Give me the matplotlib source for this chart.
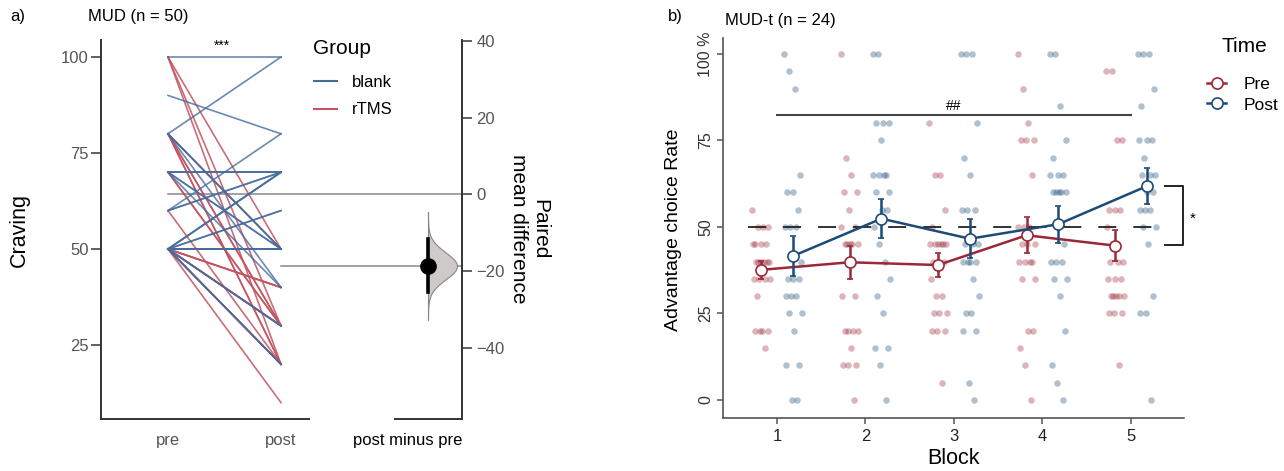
import numpy as np
import matplotlib
matplotlib.use('Agg')
import matplotlib.pyplot as plt
from matplotlib.lines import Line2D

plt.rcParams['font.family'] = ['Liberation Sans', 'DejaVu Sans']

W, H = 1284, 471

# ---- panel a: craving pre/post (paired lines)
blank_pre = [100, 90, 80, 80, 80, 80, 70, 70, 70, 70, 70, 70, 60, 60, 60,
             50, 50, 50, 50, 50, 50, 50, 50, 50, 50, 50, 50, 50, 50]
blank_post = [100, 80, 100, 50, 50, 40, 70, 70, 70, 50, 50, 40, 70, 70, 80,
              70, 70, 70, 60, 60, 50, 50, 50, 50, 50, 30, 30, 20, 20]
rtms_pre = [100, 100, 100, 80, 80, 80, 80, 80, 60, 70, 70,
            50, 50, 50, 50, 50, 50, 50, 50, 50, 50]
rtms_post = [50, 30, 20, 50, 30, 30, 20, 20, 20, 30, 30,
             40, 40, 40, 10, 30, 30, 30, 20, 20, 20]

# ---- panel b: advantage choice rate per block
blocks = [1, 2, 3, 4, 5]
pre_mean = [37.6, 39.8, 39.0, 47.6, 44.6]
pre_se = [2.5, 4.7, 3.4, 5.2, 4.4]
post_mean = [41.6, 52.4, 46.6, 50.8, 61.8]
post_se = [5.7, 5.6, 5.6, 5.4, 5.2]

pre_points = [
    [55, 50, 50, 50, 45, 45, 45, 45, 40, 40, 40, 40, 40, 40, 35, 35, 35, 35, 30, 20, 20, 20, 20, 15],
    [100, 70, 65, 60, 60, 55, 50, 50, 45, 45, 45, 45, 45, 30, 30, 20, 20, 20, 20, 15, 10, 10, 10, 0],
    [80, 65, 65, 55, 50, 45, 45, 45, 45, 45, 45, 40, 40, 40, 35, 30, 30, 25, 25, 25, 20, 20, 20, 5],
    [100, 90, 80, 75, 75, 75, 65, 50, 50, 50, 45, 45, 45, 40, 40, 40, 40, 35, 35, 20, 20, 15, 10, 0],
    [95, 95, 75, 75, 55, 55, 55, 50, 45, 40, 40, 40, 35, 35, 35, 30, 30, 30, 30, 30, 25, 25, 25, 10],
]
post_points = [
    [100, 95, 90, 65, 60, 60, 55, 50, 50, 50, 40, 35, 35, 35, 30, 30, 30, 25, 25, 20, 10, 10, 0, 0],
    [100, 100, 80, 80, 80, 75, 65, 65, 65, 65, 60, 60, 55, 55, 50, 45, 40, 35, 30, 25, 15, 15, 10, 0],
    [100, 100, 100, 80, 70, 65, 55, 55, 55, 45, 45, 45, 40, 40, 40, 40, 35, 30, 25, 25, 20, 20, 5, 0],
    [100, 100, 85, 75, 70, 65, 65, 65, 60, 60, 60, 60, 60, 45, 40, 40, 40, 35, 35, 30, 20, 10, 5, 0],
    [100, 100, 100, 90, 85, 75, 75, 75, 70, 65, 65, 65, 60, 60, 55, 55, 55, 50, 50, 45, 30, 25, 25, 0],
]

c_blank = '#466C9E'
c_rtms = '#C2535F'
c_pre = '#9B2837'
c_post = '#1C4B78'


def fig_rect(left, top, right, bottom):
    return [left / W, 1 - bottom / H, (right - left) / W, (bottom - top) / H]


fig = plt.figure(figsize=(W / 100, H / 100), dpi=100)

# ================= panel a =================
ax1 = fig.add_axes(fig_rect(101, 40, 462, 419))
ax1.set_xlim(-0.593, 2.602)
ax1.set_ylim(5.73, 104.43)
for a, b in zip(rtms_pre, rtms_post):
    ax1.plot([0, 1], [a, b], color=c_rtms, lw=1.2, alpha=0.85, zorder=2)
for a, b in zip(blank_pre, blank_post):
    ax1.plot([0, 1], [a, b], color=c_blank, lw=1.2, alpha=0.8, zorder=2)

all_pre = np.array(blank_pre + rtms_pre, dtype=float)
all_post = np.array(blank_post + rtms_post, dtype=float)
m_pre = all_pre.mean()
m_post = all_post.mean()
ax1.plot([0, 2.602], [m_pre, m_pre], color='#888888', lw=1.1, zorder=1)
ax1.plot([1, 2.602], [m_post, m_post], color='#888888', lw=1.1, zorder=1)

ax1.text(0.48, 102.8, '***', ha='center', va='center', fontsize=10)

for s in ['top', 'right']:
    ax1.spines[s].set_visible(False)
for s in ['left', 'bottom']:
    ax1.spines[s].set_color('#333333')
    ax1.spines[s].set_linewidth(1.4)
ax1.spines['bottom'].set_bounds(-0.593, 1.248)
ax1.set_xticks([0, 1])
ax1.set_xticklabels(['pre', 'post'])
ax1.set_yticks([25, 50, 75, 100])
ax1.tick_params(axis='x', length=0, pad=10, labelsize=12, labelcolor='#555555')
ax1.tick_params(axis='y', length=7, width=1.3, color='#555555', pad=2,
                labelsize=12, labelcolor='#555555')

fig.text(313 / W, 1 - 48 / H, 'Group', ha='left', va='center', fontsize=15)
ax1.legend([Line2D([], [], color=c_blank, lw=1.5),
            Line2D([], [], color=c_rtms, lw=1.5)],
           ['blank', 'rTMS'], loc='upper left',
           bbox_to_anchor=(314 / W, 1 - 75 / H), bbox_transform=fig.transFigure,
           frameon=False, fontsize=12, borderpad=0, borderaxespad=0,
           handlelength=1.4, handletextpad=0.85, labelspacing=0.75)

# difference axis
ax2 = fig.add_axes(fig_rect(395, 40, 462, 419))
ax2.patch.set_visible(False)
ax2.set_xlim(0, 1)
ax2.set_ylim(5.73 - m_pre, 104.43 - m_pre)
diffs = all_post - all_pre
d_mean = diffs.mean()
d_se = diffs.std(ddof=1) / np.sqrt(len(diffs))
yy = np.linspace(d_mean - 4 * d_se, d_mean + 4 * d_se, 200)
dens = np.exp(-0.5 * ((yy - d_mean) / d_se) ** 2)
x0 = 0.4925
ax2.fill_betweenx(yy, x0, x0 + 0.433 * dens, facecolor='#cfcaca', edgecolor='#8a8585',
                  lw=0.8, zorder=2)
ax2.plot([x0, x0], [d_mean - 1.96 * d_se, d_mean + 1.96 * d_se], color='black', lw=2.6, zorder=3)
ax2.plot([x0], [d_mean], 'o', color='black', ms=11, zorder=4)
for s in ['top', 'left']:
    ax2.spines[s].set_visible(False)
for s in ['right', 'bottom']:
    ax2.spines[s].set_color('#333333')
    ax2.spines[s].set_linewidth(1.4)
ax2.yaxis.tick_right()
ax2.set_yticks([-40, -20, 0, 20, 40])
ax2.set_yticklabels(['\u221240', '\u221220', '0', '20', '40'])
ax2.set_xticks([0.19])
ax2.set_xticklabels(['post minus pre'])
ax2.tick_params(axis='x', length=0, pad=10, labelsize=12, labelcolor='black')
ax2.tick_params(axis='y', length=7.5, width=1.3, color='#555555', pad=3,
                labelsize=12, labelcolor='#555555')

fig.text(19 / W, 1 - 230 / H, 'Craving', rotation=90, ha='center', va='center', fontsize=15.5)
fig.text(529 / W, 1 - 229 / H, 'Paired\nmean difference', rotation=270, ha='center',
         va='center', multialignment='center', fontsize=15, linespacing=1.1)
fig.text(10 / W, 1 - 17 / H, 'a)', ha='left', va='center', fontsize=12)
fig.text(88 / W, 1 - 17 / H, 'MUD (n = 50)', ha='left', va='center', fontsize=12)

# ================= panel b =================
bx = fig.add_axes(fig_rect(723, 38, 1184, 418))
bx.set_xlim(0.39, 5.599)
bx.set_ylim(-5.2, 104.6)

dodge = 0.18
n_pts = 24
jit = (((np.arange(n_pts) * 7) % n_pts) / (n_pts - 1) - 0.5) * 0.2
for i, b in enumerate(blocks):
    bx.scatter(b - dodge + jit, pre_points[i], s=22, color=c_pre, alpha=0.35,
               linewidths=0, zorder=1)
    bx.scatter(b + dodge + jit, post_points[i], s=22, color=c_post, alpha=0.35,
               linewidths=0, zorder=1)

bx.plot([0.672, 5.384], [50, 50], color='#222222', lw=1.3, dashes=(10, 9.4), zorder=2)

bxp = np.array(blocks) - dodge
bxq = np.array(blocks) + dodge
bx.errorbar(bxp, pre_mean, yerr=pre_se, color=c_pre, lw=1.8, elinewidth=1.8,
            capsize=2, capthick=1.8, marker='o', ms=8, mfc='white', mec=c_pre, mew=1.2,
            zorder=4)
bx.errorbar(bxq, post_mean, yerr=post_se, color=c_post, lw=1.8, elinewidth=1.8,
            capsize=2, capthick=1.8, marker='o', ms=8, mfc='white', mec=c_post, mew=1.2,
            zorder=5)

bx.plot([1, 5], [82.4, 82.4], color='#444444', lw=1.5, zorder=3)
bx.text(3.0, 83.0, '##', ha='center', va='bottom', fontsize=10)
bx.plot([5.384, 5.588, 5.588, 5.384], [61.8, 61.8, 44.8, 44.8], color='#222222', lw=1.4,
        clip_on=False, zorder=3)
bx.text(5.70, 52.5, '*', ha='center', va='center', fontsize=11, clip_on=False)

for s in ['top', 'right']:
    bx.spines[s].set_visible(False)
for s in ['left', 'bottom']:
    bx.spines[s].set_color('#555555')
    bx.spines[s].set_linewidth(1.2)
bx.set_xticks(blocks)
bx.set_yticks([0, 25, 50, 75, 100])
bx.set_yticklabels(['0', '25', '50', '75', '100 %'], rotation=90, va='center')
bx.tick_params(axis='x', length=4, width=1.1, color='#555555', pad=4,
               labelsize=12, labelcolor='#222222')
bx.tick_params(axis='y', length=4, width=1.1, color='#555555', pad=3,
               labelsize=11.5, labelcolor='#333333')
bx.set_xlabel('Block', fontsize=15.5, labelpad=3)

fig.text(674 / W, 1 - 230 / H, 'Advantage choice Rate', rotation=90, ha='center',
         va='center', fontsize=14)
fig.text(668 / W, 1 - 16 / H, 'b)', ha='left', va='center', fontsize=12)
fig.text(725 / W, 1 - 20 / H, 'MUD-t (n = 24)', ha='left', va='center', fontsize=12)

fig.text(1222 / W, 1 - 47 / H, 'Time', ha='left', va='center', fontsize=15)
h_pre = Line2D([], [], color=c_pre, lw=1.8, marker='o', ms=8, mfc='white', mec=c_pre, mew=1.2)
h_post = Line2D([], [], color=c_post, lw=1.8, marker='o', ms=8, mfc='white', mec=c_post, mew=1.2)
bx.legend([h_pre, h_post], ['Pre', 'Post'], loc='upper left',
          bbox_to_anchor=(1207 / W, 1 - 77 / H), bbox_transform=fig.transFigure,
          frameon=False, fontsize=12.5, borderpad=0, borderaxespad=0, handlelength=1.1,
          handletextpad=1.0, labelspacing=0.3)

fig.savefig('out.png', dpi=100)
